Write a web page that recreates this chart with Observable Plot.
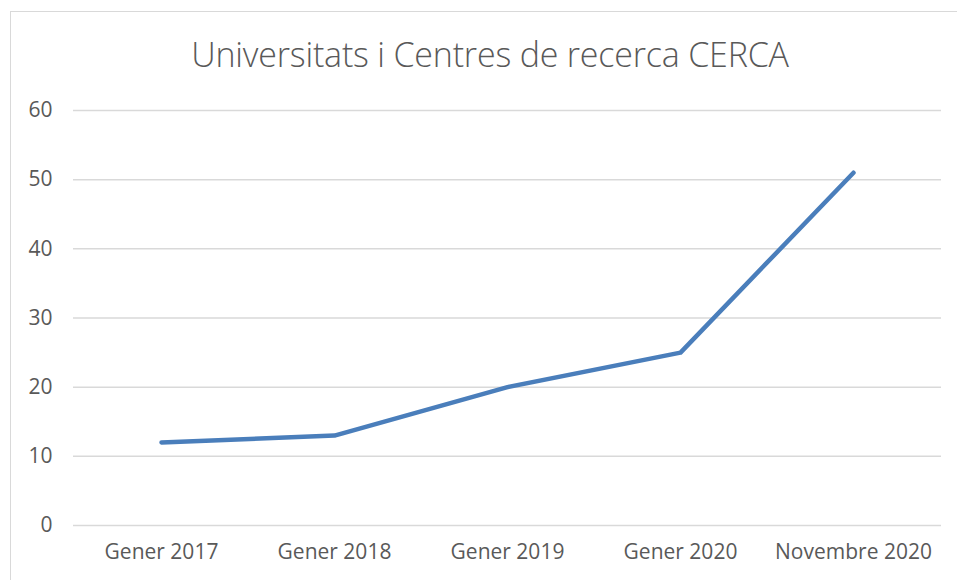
<!DOCTYPE html>
<html>
<head>
<meta charset="utf-8">
<script src="https://cdn.jsdelivr.net/npm/d3@7"></script>
<script src="https://cdn.jsdelivr.net/npm/@observablehq/plot@0.6"></script>
<style>
  html, body { margin: 0; padding: 0; background: #fff; overflow: hidden; }
  #wrap { position: relative; width: 957px; height: 580px; }
  #frame { position: absolute; left: 10px; top: 11px; width: 960px; height: 600px; border: 1.5px solid #d9d9d9; box-sizing: border-box; }
  #title { position: absolute; left: 0; width: 980px; top: 31px; text-align: center; font-family: "Open Sans", sans-serif; font-weight: 300; font-size: 34px; color: #595959; letter-spacing: -0.2px; }
  #chart { position: absolute; left: 0; top: 0; }
</style>
</head>
<body>
<div id="wrap">
  <div id="frame"></div>
  <div id="title">Universitats i Centres de recerca CERCA</div>
  <div id="chart"></div>
</div>
<script>
const categories = ["Gener 2017", "Gener 2018", "Gener 2019", "Gener 2020", "Novembre 2020"];
const values = [12, 13, 20, 25, 51];
const yTicks = [0, 10, 20, 30, 40, 50, 60];

const data = categories.map((c, i) => ({cat: c, v: values[i]}));

const plot = Plot.plot({
  width: 957,
  height: 580,
  marginTop: 110,
  marginBottom: 55,
  marginLeft: 73,
  marginRight: 16,
  style: {fontFamily: "Open Sans, sans-serif", color: "#595959", background: "transparent"},
  x: {type: "point", domain: categories, padding: 0.5, label: null},
  y: {domain: [0, 60], label: null},
  marks: [
    Plot.ruleY(yTicks, {stroke: "#d9d9d9", strokeWidth: 1.5}),
    Plot.axisY({ticks: yTicks, tickSize: 0, tickPadding: 21, label: null, fill: "#595959", fontSize: 21}),
    Plot.axisX({tickSize: 0, tickPadding: 19, label: null, fill: "#595959", fontSize: 21}),
    Plot.line(data, {x: "cat", y: "v", stroke: "#4a7ebb", strokeWidth: 4.5, strokeLinecap: "round", strokeLinejoin: "round"})
  ]
});
document.getElementById("chart").appendChild(plot);
</script>
</body>
</html>
